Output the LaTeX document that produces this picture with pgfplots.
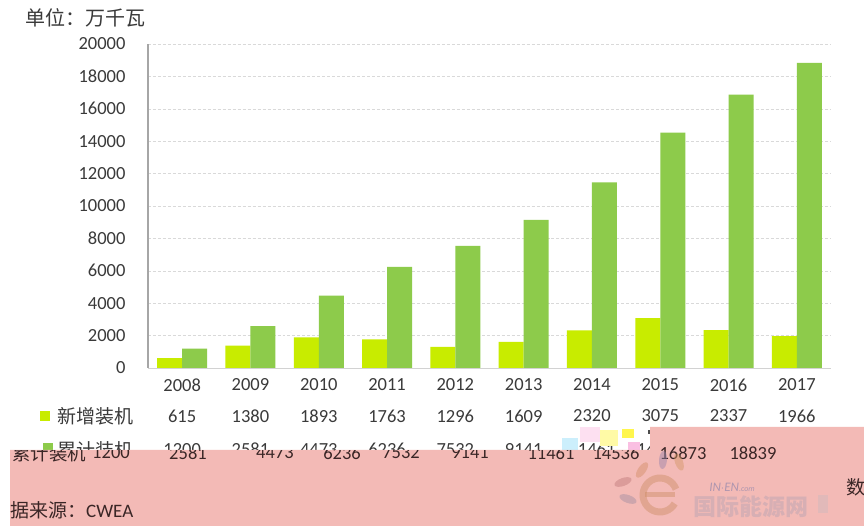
\documentclass[border=0pt]{standalone}
\usepackage{pgfplots}
\pgfplotsset{compat=1.18}
\usepackage{fontspec}
\setmainfont{Carlito}
\newfontfamily\cjk{Noto Sans CJK SC}

\definecolor{newg}{HTML}{C8EC00}
\definecolor{cumg}{HTML}{8DCB4B}
\definecolor{pinkbg}{HTML}{F3BAB6}
\definecolor{txt}{HTML}{3A3A3A}
\definecolor{ptxt}{HTML}{3A2626}

\pgfplotstableread{
x year new cum
0 2008 615 1200
1 2009 1380 2581
2 2010 1893 4473
3 2011 1763 6236
4 2012 1296 7532
5 2013 1609 9141
6 2014 2320 11461
7 2015 3075 14536
8 2016 2337 16873
9 2017 1966 18839
}\windtab

\newcommand{\num}{\fontsize{18.5bp}{22bp}\selectfont}
\newcommand{\zh}{\cjk\fontsize{19bp}{22bp}\selectfont}

\begin{document}
\begin{tikzpicture}[x=1bp,y=1bp]
\path[use as bounding box, fill=white] (0,0) rectangle (864,526);

% title
\node[anchor=west, text=txt, inner sep=0pt] at (25,508) {\cjk\fontsize{20bp}{22bp}\selectfont 单位：万千瓦};

\begin{axis}[
  at={(148bp,158bp)}, anchor=south west,
  scale only axis, width=683bp, height=324bp,
  ymin=0, ymax=20000, xmin=-0.5, xmax=9.5,
  ybar=0pt, bar width=25bp,
  ytick={0,2000,...,20000},
  xtick={0,...,9}, xticklabels={2008,2009,2010,2011,2012,2013,2014,2015,2016,2017},
  ymajorgrids, grid style={densely dashed, gray!30},
  axis x line*=bottom, axis y line*=left,
  x axis line style={-, gray!35},
  y axis line style={-, gray!70, line width=1.2pt},
  major tick length=0pt,
  tick label style={font=\num, text=txt},
  yticklabel style={xshift=-19bp},
  xticklabel style={yshift=-7bp},
  /pgf/number format/assume math mode=true,
  /pgf/number format/1000 sep={},
  scaled y ticks=false,
]
\addplot[fill=newg, draw=none] table[x=x, y=new] {\windtab};
\addplot[fill=cumg, draw=none] table[x=x, y=cum] {\windtab};
\end{axis}

% data table, row 1
\fill[newg] (40,105) rectangle (50,115);
\node[anchor=west, text=txt, inner sep=0pt] at (57,110) {\zh 新增装机};
\foreach \v [count=\i from 0] in {615,1380,1893,1763,1296,1609,2320,3075,2337,1966}
  \node[text=txt, inner sep=0pt] at ({182.15+68.3*\i},110) {\num \v};

% data table, row 2 (mostly hidden)
\fill[cumg] (43,73) rectangle (53,83);
\node[anchor=west, text=txt, inner sep=0pt] at (57,76) {\zh 累计装机};
\foreach \v [count=\i from 0] in {1200,2581,4473,6236,7532,9141,11461,14536,16873,18839}
  \node[text=txt, inner sep=0pt] at ({182.15+68.3*\i},76.5) {\num \v};

% glitch patch
\fill[cyan!20] (562,76) rectangle (578,88);
\fill[magenta!12] (580,84) rectangle (600,99);
\fill[yellow!35] (600,80) rectangle (618,96);
\fill[yellow!70] (622,88) rectangle (634,97);
\fill[magenta!25] (628,76) rectangle (640,84);
\fill[black!70] (648,92) rectangle (652,96);

% pink band
\fill[pinkbg] (10,0) -- (864,0) -- (864,99) -- (650,99) -- (650,76) -- (10,76) -- cycle;

\begin{scope}
\clip (10,0) -- (864,0) -- (864,99) -- (650,99) -- (650,76) -- (10,76) -- cycle;
\node[anchor=west, text=ptxt, inner sep=0pt] at (12,72) {\cjk\fontsize{18.5bp}{22bp}\selectfont 累计装机};
\foreach \v/\p in {1200/111,2581/188,4473/275,6236/342,7532/401,9141/470,11461/551,14536/616,16873/683,18839/753}
  \node[text=ptxt, inner sep=0pt] at (\p,73) {\num \v};
\end{scope}

% source
\node[anchor=west, text=ptxt, inner sep=0pt] at (10,16) {\zh 据来源：{\fontspec{Carlito}CWEA}};
\node[anchor=west, text=ptxt, inner sep=0pt] at (846,39) {\zh 数};

% watermark
\begin{scope}[opacity=0.45]
\draw[line width=7bp, color={rgb,255:red,205;green,140;blue,100}] (660,31) ++(20:17) arc[start angle=20, end angle=330, radius=17];
\draw[line width=5bp, color={rgb,255:red,205;green,140;blue,100}] (645,31) -- (675,31);
\fill[color={rgb,255:red,190;green,120;blue,120}, rotate around={20:(623,44)}] (623,44) ellipse (9 and 4);
\fill[color={rgb,255:red,160;green,140;blue,160}, rotate around={-20:(628,27)}] (628,27) ellipse (9 and 4);
\fill[color={rgb,255:red,210;green,140;blue,100}, rotate around={55:(642,56)}] (642,56) ellipse (9 and 4);
\fill[color={rgb,255:red,150;green,130;blue,170}, rotate around={85:(663,66)}] (663,66) ellipse (9 and 4);
\fill[color={rgb,255:red,210;green,150;blue,100}, rotate around={110:(679,64)}] (679,64) ellipse (9 and 4);
\end{scope}
\node[text={rgb,255:red,175;green,150;blue,175}, inner sep=0pt] at (732,39) {\fontsize{13bp}{14bp}\selectfont\itshape IN$\cdot$EN{\fontsize{8bp}{9bp}\selectfont .com}};
\node[text={rgb,255:red,215;green,175;blue,180}, inner sep=0pt] at (751,19) {\cjk\bfseries\fontsize{23bp}{25bp}\selectfont 国际能源网};
\fill[color={rgb,255:red,225;green,185;blue,185}] (818,13) rectangle (828,31);
\end{tikzpicture}
\end{document}
